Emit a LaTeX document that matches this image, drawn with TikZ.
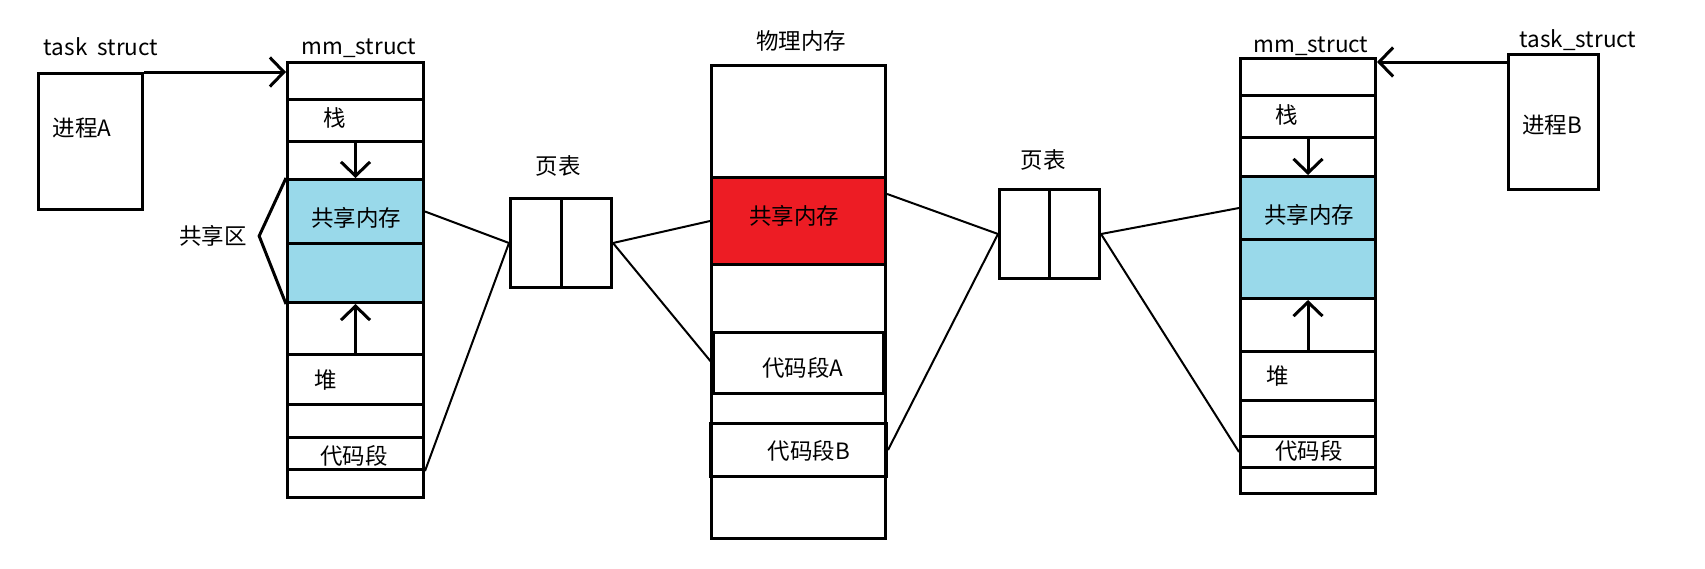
\documentclass[tikz,border=0pt]{standalone}
\usepackage{fontspec}
\setmainfont{Noto Sans CJK SC}
\usepackage{tikz}
\usetikzlibrary{positioning,arrows.meta,calc}
\definecolor{shmclr}{RGB}{153,217,234}
\definecolor{physclr}{RGB}{237,28,36}
\tikzset{
    cell/.style={rectangle,draw,line width=0.3mm,anchor=north west,inner sep=0pt},
    shm/.style={cell,fill=shmclr},
    physshm/.style={cell,fill=physclr},
    link/.style={line width=0.2mm},
    ptr/.style={line width=0.3mm,-{Straight Barb[length=1.4mm,width=2.9mm]}},
}

\begin{document}
\begin{tikzpicture}[
    x=0.1mm,y=-0.1mm,
    every node/.style={font=\fontsize{6.4pt}{7pt}\selectfont},
]
\useasboundingbox (0,0) rectangle (1705,568);

% process A
\node[cell,minimum width=10.4mm,minimum height=13.6mm] (taskA) at (37,72) {};
\node (taskAlbl) at (101,47) {task\ \ struct};
\node (procA) at (82,128) {进程A};

% mm_struct of A
\node[cell,minimum width=13.6mm,minimum height=43.5mm] (mmA) at (286,61) {};
\node (mmAlbl) at (359,48) {mm\_struct};
\node[cell,minimum width=13.6mm,minimum height=4.2mm] (stackA) at (286,98) {};
\node[shm,minimum width=13.6mm,minimum height=6.4mm] (shmA) at (286,178) {};
\node[shm,minimum width=13.6mm,minimum height=5.9mm] (shm2A) at (286,242) {};
\node[cell,minimum width=13.6mm,minimum height=5.0mm] (heapA) at (286,353) {};
\node[cell,minimum width=13.6mm,minimum height=3.2mm] (codeA) at (286,436) {};
\node (stackAlbl) at (335,118) {栈};
\node (shmAlbl) at (356,218) {共享内存};
\node (heapAlbl) at (326,380) {堆};
\node (codeAlbl) at (354,456) {代码段};
\node (shareLbl) at (213,236) {共享区};

\draw[ptr] (taskA.north east) -- (taskA.north east -| mmA.west);
\draw[ptr] (stackA.south) -- (stackA.south |- shmA.north);
\draw[ptr] (heapA.north) -- (heapA.north |- shm2A.south);
\draw[line width=0.3mm] (shmA.north west) -- (shareLbl.east) -- (shm2A.south west);

% page table of A
\node[cell,minimum width=10.1mm,minimum height=8.9mm] (ptA) at (509,197) {};
\draw[line width=0.3mm] (ptA.north) -- (ptA.south);
\node (ptAlbl) at (558,166) {页表};

% physical memory
\node[cell,minimum width=17.4mm,minimum height=47.3mm] (phys) at (710,64) {};
\node (physLbl) at (801,41) {物理内存};
\node[physshm,minimum width=17.4mm,minimum height=8.7mm] (redShm) at (710,176) {};
\node[cell,minimum width=17.0mm,minimum height=6.1mm] (physCodeA) at (712,331) {};
\node[cell,minimum width=17.6mm,minimum height=5.3mm] (physCodeB) at (709,422) {};
\node (redShmLbl) at (794,216) {共享内存};
\node (physCodeAlbl) at (803,368) {代码段A};
\node (physCodeBlbl) at (809,451) {代码段B};

% page table of B
\node[cell,minimum width=10.0mm,minimum height=8.9mm] (ptB) at (998,188) {};
\draw[line width=0.3mm] (ptB.north) -- (ptB.south);
\node (ptBlbl) at (1043,160) {页表};

% mm_struct of B
\node[cell,minimum width=13.5mm,minimum height=43.5mm] (mmB) at (1239,57) {};
\node (mmBlbl) at (1311,46) {mm\_struct};
\node[cell,minimum width=13.5mm,minimum height=4.2mm] (stackB) at (1239,94) {};
\node[shm,minimum width=13.5mm,minimum height=6.3mm] (shmB) at (1239,175) {};
\node[shm,minimum width=13.5mm,minimum height=5.9mm] (shm2B) at (1239,238) {};
\node[cell,minimum width=13.5mm,minimum height=4.9mm] (heapB) at (1239,350) {};
\node[cell,minimum width=13.5mm,minimum height=3.1mm] (codeB) at (1239,435) {};
\node (stackBlbl) at (1287,115) {栈};
\node (shmBlbl) at (1309,215) {共享内存};
\node (heapBlbl) at (1278,376) {堆};
\node (codeBlbl) at (1309,451) {代码段};

\draw[ptr] (stackB.south) -- (stackB.south |- shmB.north);
\draw[ptr] (heapB.north) -- (heapB.north |- shm2B.south);

% process B
\node[cell,minimum width=9.0mm,minimum height=13.5mm] (taskB) at (1507,53) {};
\node (taskBlbl) at (1578,40) {task\_struct};
\node (procB) at (1552,125) {进程B};
\coordinate (ptrB) at ([yshift=-0.9mm]taskB.north west);
\draw[ptr] (ptrB) -- (ptrB -| mmB.east);

% page table links
\draw[link] (shmA.east) -- (ptA.west);
\draw[link] (codeA.south east) -- (ptA.west);
\draw[link] (ptA.east) -- (redShm.west);
\draw[link] (ptA.east) -- (physCodeA.west);
\draw[link] (redShm.17) -- (ptB.west);
\draw[link] (physCodeB.east) -- (ptB.west);
\draw[link] (ptB.east) -- (shmB.west);
\draw[link] (ptB.east) -- (codeB.west);
\end{tikzpicture}
\end{document}
